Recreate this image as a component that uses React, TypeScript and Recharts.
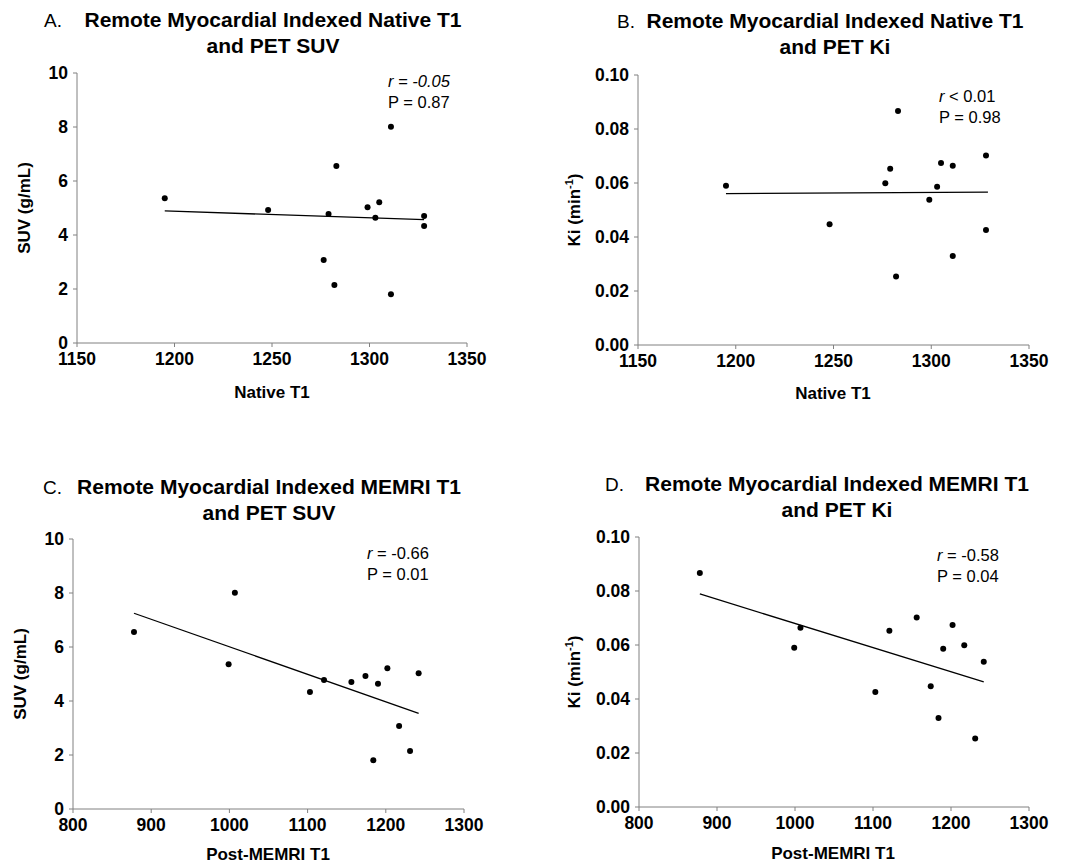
import React from 'react';
import { ScatterChart, Scatter, XAxis, YAxis, ReferenceLine } from 'recharts';

// one entry per subject
const nativeT1 = [1195, 1248, 1279, 1283, 1276.5, 1282, 1299, 1305, 1303, 1311, 1311, 1328, 1328];
const memriT1 = [999, 1174, 1121, 878, 1217, 1231, 1242, 1202, 1190, 1007, 1184, 1156, 1103];
const suv = [5.36, 4.93, 4.78, 6.56, 3.07, 2.15, 5.03, 5.21, 4.64, 8.01, 1.81, 4.7, 4.33];
const ki = [0.059, 0.0447, 0.0653, 0.0867, 0.0599, 0.0254, 0.0538, 0.0674, 0.0586, 0.0664, 0.033, 0.0702, 0.0426];

// regression line ends
const fitA = [{ x: 1195, y: 4.89 }, { x: 1328, y: 4.57 }];
const fitB = [{ x: 1195, y: 0.0561 }, { x: 1329, y: 0.0566 }];
const fitC = [{ x: 878, y: 7.25 }, { x: 1242, y: 3.54 }];
const fitD = [{ x: 878, y: 0.0789 }, { x: 1242, y: 0.0463 }];

const nativeTicks = [1150, 1200, 1250, 1300, 1350];
const memriTicks = [800, 900, 1000, 1100, 1200, 1300];
const suvTicks = [0, 2, 4, 6, 8, 10];
const kiTicks = [0, 0.02, 0.04, 0.06, 0.08, 0.1];

const FONT = '"Liberation Sans", Arial, sans-serif';
const AXIS = '#808080';

const pairs = (xs: number[], ys: number[]) => xs.map((x, i) => ({ x, y: ys[i] }));

const Dot = (props: any) => <circle cx={props.cx} cy={props.cy} r={3} fill="#000" />;

interface PanelProps {
  left: number;
  top: number;
  width: number;
  height: number;
  plot: [number, number, number, number]; // x0, x1, y0, y1 (page coords)
  data: { x: number; y: number }[];
  fit: { x: number; y: number }[];
  xDomain: [number, number];
  xTicks: number[];
  yDomain: [number, number];
  yTicks: number[];
  yFmt: (v: number) => string;
}

const Panel = ({ left, top, width, height, plot, data, fit, xDomain, xTicks, yDomain, yTicks, yFmt }: PanelProps) => {
  const yw = 60;
  const xh = 40;
  const margin = {
    top: plot[2] - top,
    left: plot[0] - left - yw,
    right: left + width - plot[1],
    bottom: top + height - plot[3] - xh,
  };
  const tick = { fill: '#000', fontSize: 17.5, fontWeight: 700, fontFamily: FONT };
  return (
    <div style={{ position: 'absolute', left, top }}>
      <ScatterChart width={width} height={height} margin={margin}>
        <XAxis
          type="number"
          dataKey="x"
          domain={xDomain}
          ticks={xTicks}
          height={xh}
          stroke={AXIS}
          tickSize={4}
          tickMargin={6}
          tick={tick}
          interval={0}
        />
        <YAxis
          type="number"
          dataKey="y"
          domain={yDomain}
          ticks={yTicks}
          width={yw}
          stroke={AXIS}
          tickSize={4}
          tickMargin={5}
          tick={tick}
          interval={0}
          tickFormatter={yFmt}
        />
        <ReferenceLine segment={fit} stroke="#000" strokeWidth={1.3} ifOverflow="visible" />
        <Scatter data={data} shape={Dot} isAnimationActive={false} />
      </ScatterChart>
    </div>
  );
};

const abs = (x: number, y: number, extra: React.CSSProperties = {}): React.CSSProperties => ({
  position: 'absolute',
  left: x,
  top: y,
  fontFamily: FONT,
  color: '#000',
  whiteSpace: 'nowrap',
  ...extra,
});

const Title = ({ letter, lx, cx, top, l1, l2 }: { letter: string; lx: number; cx: number; top: number; l1: string; l2: string }) => (
  <>
    <div style={abs(lx, top, { fontSize: 19, lineHeight: '26px' })}>{letter}</div>
    <div style={abs(cx - 220, top - 1, { width: 440, textAlign: 'center', fontSize: 21, fontWeight: 700, lineHeight: '26px' })}>
      {l1}
      <br />
      {l2}
    </div>
  </>
);

const Stats = ({ x, y, r, p }: { x: number; y: number; r: React.ReactNode; p: string }) => (
  <div style={abs(x, y, { fontSize: 16.5, lineHeight: '20.5px' })}>
    {r}
    <br />
    {p}
  </div>
);

const XLabel = ({ cx, cy, text }: { cx: number; cy: number; text: string }) => (
  <div style={abs(cx, cy, { transform: 'translate(-50%, -50%)', fontSize: 17, fontWeight: 700 })}>{text}</div>
);

const YLabel = ({ cx, cy, children }: { cx: number; cy: number; children: React.ReactNode }) => (
  <div style={abs(cx, cy, { transform: 'translate(-50%, -50%) rotate(-90deg)', fontSize: 17, fontWeight: 700 })}>{children}</div>
);

const KiLabel = () => (
  <>
    Ki (min<sup style={{ fontSize: 11, verticalAlign: 'super', lineHeight: 0 }}>-1</sup>)
  </>
);

const suvFmt = (v: number) => String(v);
const kiFmt = (v: number) => v.toFixed(2);

export default function App() {
  return (
    <div style={{ position: 'absolute', left: 0, top: 0, width: 1083, height: 864, background: '#fff', overflow: 'hidden' }}>
      <Panel left={0} top={0} width={540} height={430} plot={[77, 467, 73, 343]} data={pairs(nativeT1, suv)} fit={fitA}
        xDomain={[1150, 1350]} xTicks={nativeTicks} yDomain={[0, 10]} yTicks={suvTicks} yFmt={suvFmt} />
      <Panel left={540} top={0} width={543} height={430} plot={[638, 1029, 75, 345]} data={pairs(nativeT1, ki)} fit={fitB}
        xDomain={[1150, 1350]} xTicks={nativeTicks} yDomain={[0, 0.1]} yTicks={kiTicks} yFmt={kiFmt} />
      <Panel left={0} top={430} width={540} height={434} plot={[73, 464, 539, 809]} data={pairs(memriT1, suv)} fit={fitC}
        xDomain={[800, 1300]} xTicks={memriTicks} yDomain={[0, 10]} yTicks={suvTicks} yFmt={suvFmt} />
      <Panel left={540} top={430} width={543} height={434} plot={[639, 1029, 537, 807]} data={pairs(memriT1, ki)} fit={fitD}
        xDomain={[800, 1300]} xTicks={memriTicks} yDomain={[0, 0.1]} yTicks={kiTicks} yFmt={kiFmt} />

      <Title letter="A." lx={44} cx={273} top={8} l1="Remote Myocardial Indexed Native T1" l2="and PET SUV" />
      <Title letter="B." lx={617} cx={835} top={9} l1="Remote Myocardial Indexed Native T1" l2="and PET Ki" />
      <Title letter="C." lx={43} cx={269} top={475} l1="Remote Myocardial Indexed MEMRI T1" l2="and PET SUV" />
      <Title letter="D." lx={605} cx={837} top={472} l1="Remote Myocardial Indexed MEMRI T1" l2="and PET Ki" />

      <Stats x={388} y={71} r={<i>r = -0.05</i>} p="P = 0.87" />
      <Stats x={939} y={86} r={<><i>r</i> &lt; 0.01</>} p="P = 0.98" />
      <Stats x={367} y={543} r={<><i>r</i> = -0.66</>} p="P = 0.01" />
      <Stats x={937} y={545} r={<><i>r</i> = -0.58</>} p="P = 0.04" />

      <XLabel cx={272} cy={393} text="Native T1" />
      <XLabel cx={833} cy={394} text="Native T1" />
      <XLabel cx={268} cy={855} text="Post-MEMRI T1" />
      <XLabel cx={833} cy={854} text="Post-MEMRI T1" />

      <YLabel cx={25} cy={208}>SUV (g/mL)</YLabel>
      <YLabel cx={575} cy={210}><KiLabel /></YLabel>
      <YLabel cx={21} cy={674}>SUV (g/mL)</YLabel>
      <YLabel cx={575} cy={672}><KiLabel /></YLabel>
    </div>
  );
}
